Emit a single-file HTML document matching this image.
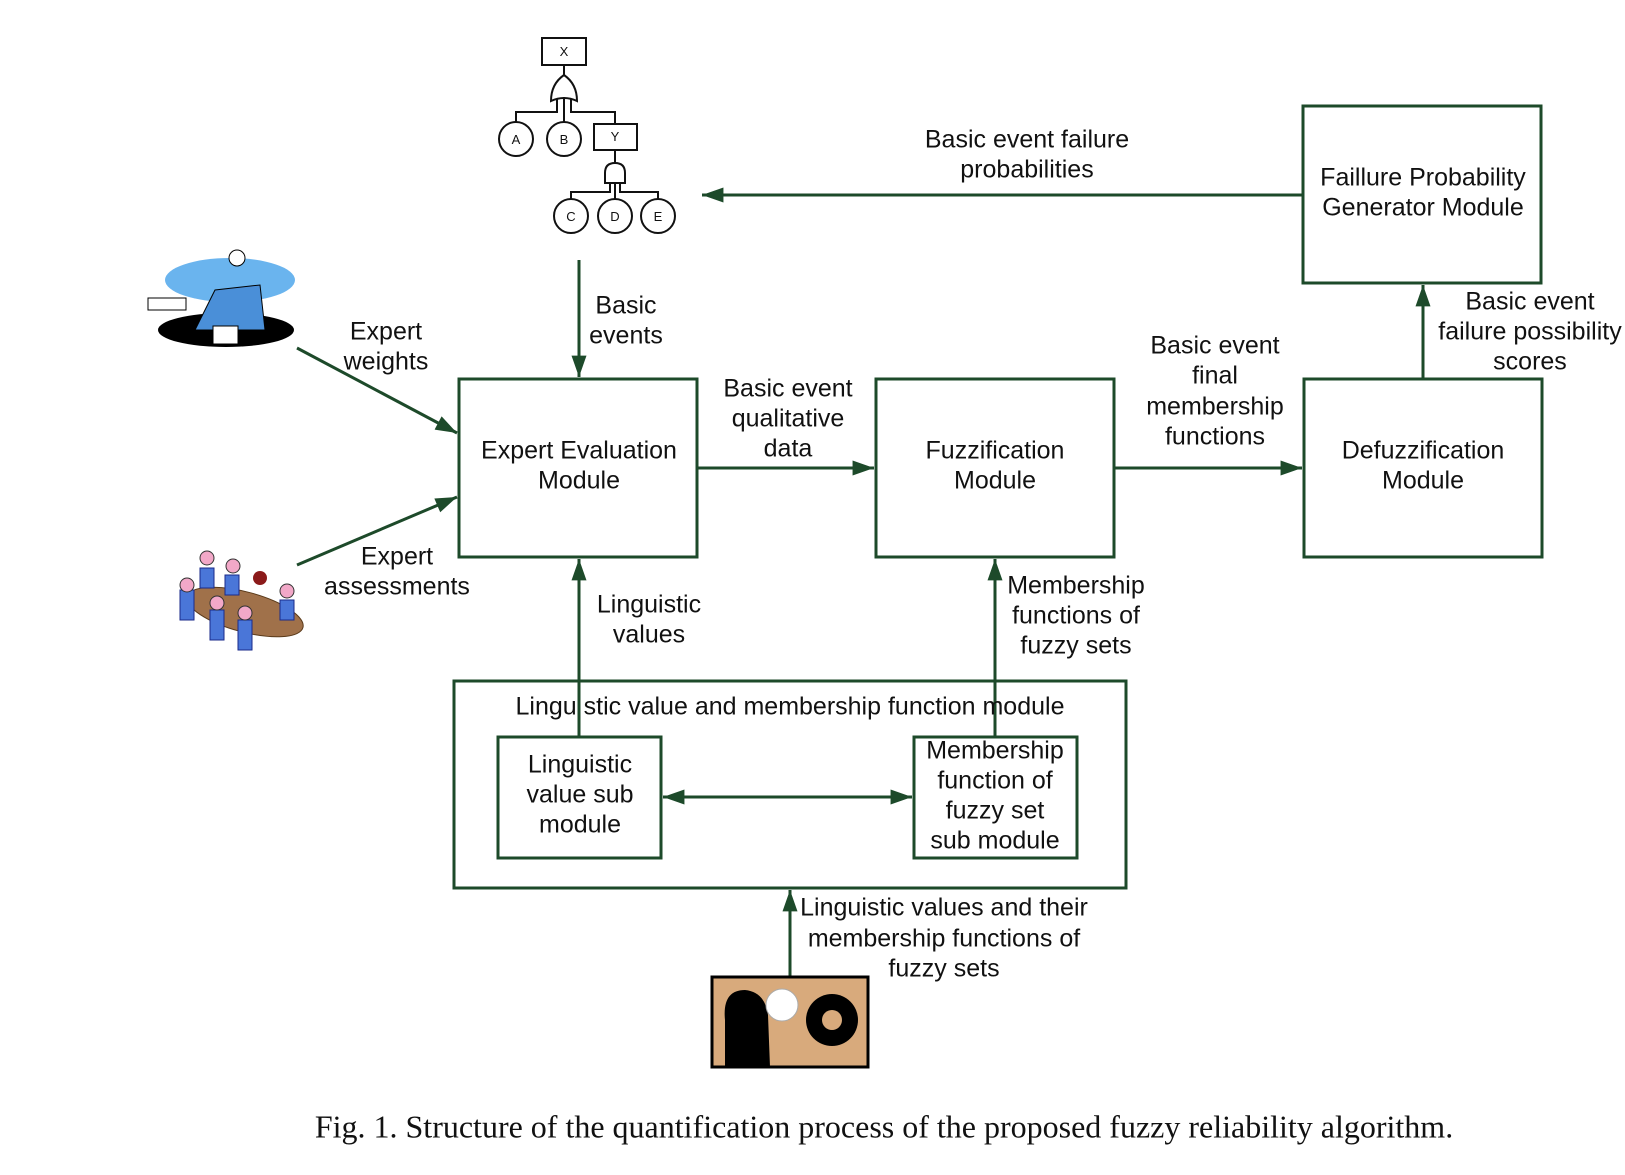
<!DOCTYPE html>
<html><head><meta charset="utf-8"><style>
html,body{margin:0;padding:0;background:#fff;}
svg text{font-family:"Liberation Sans",sans-serif;font-size:25px;fill:#111;}
</style></head><body>
<svg width="1625" height="1170" viewBox="0 0 1625 1170" xmlns="http://www.w3.org/2000/svg">
<defs>
<marker id="a" viewBox="0 0 20 14" refX="20" refY="7" markerWidth="22" markerHeight="15" markerUnits="userSpaceOnUse" orient="auto-start-reverse"><path d="M0,0 L20,7 L0,14 z" fill="#1d4a2a"/></marker>
</defs>
<g fill="none" stroke="#1d4a2a" stroke-width="3">
<rect x="459" y="379" width="238" height="178"/>
<rect x="876" y="379" width="238" height="178"/>
<rect x="1304" y="379" width="238" height="178"/>
<rect x="1303" y="106" width="238" height="177"/>
<rect x="454" y="681" width="672" height="207"/>
<rect x="498" y="737" width="163" height="121"/>
<rect x="914" y="737" width="163" height="121"/>
<line x1="1303" y1="195" x2="702" y2="195" marker-end="url(#a)"/>
<line x1="579" y1="260" x2="579" y2="377" marker-end="url(#a)"/>
<line x1="297" y1="348" x2="457" y2="433" marker-end="url(#a)"/>
<line x1="297" y1="565" x2="457" y2="497" marker-end="url(#a)"/>
<line x1="697" y1="468" x2="874" y2="468" marker-end="url(#a)"/>
<line x1="1114" y1="468" x2="1302" y2="468" marker-end="url(#a)"/>
<line x1="1423" y1="379" x2="1423" y2="285" marker-end="url(#a)"/>
<line x1="579" y1="737" x2="579" y2="559" marker-end="url(#a)"/>
<line x1="995" y1="737" x2="995" y2="559" marker-end="url(#a)"/>
<line x1="663" y1="797" x2="912" y2="797" marker-start="url(#a)" marker-end="url(#a)"/>
<line x1="790" y1="977" x2="790" y2="890" marker-end="url(#a)"/>
</g>
<g fill="#fff" stroke="#111" stroke-width="2">
<rect x="542" y="38" width="44" height="27"/>
<line x1="564" y1="65" x2="564" y2="76"/>
<path d="M551,101 Q551,84 564,75 Q577,84 577,101 Q564,95 551,101 z"/>
<polyline points="557,99 557,112 516,112 516,122" fill="none"/>
<line x1="564" y1="97" x2="564" y2="122"/>
<polyline points="571,99 571,112 615,112 615,124" fill="none"/>
<circle cx="516" cy="139" r="17"/><circle cx="564" cy="139" r="17"/>
<rect x="594" y="124" width="43" height="26"/>
<line x1="615" y1="150" x2="615" y2="163"/>
<path d="M605,183 L605,173 Q605,163 615,163 Q625,163 625,173 L625,183 z"/>
<polyline points="610,183 610,192 571,192 571,199" fill="none"/>
<line x1="615" y1="183" x2="615" y2="199"/>
<polyline points="620,183 620,192 658,192 658,199" fill="none"/>
<circle cx="571" cy="216" r="17"/><circle cx="615" cy="216" r="17"/><circle cx="658" cy="216" r="17"/>
</g>
<g text-anchor="middle">
<text x="564" y="56" style="font-size:13px">X</text>
<text x="516" y="144" style="font-size:13px">A</text><text x="564" y="144" style="font-size:13px">B</text>
<text x="615" y="141" style="font-size:13px">Y</text>
<text x="571" y="221" style="font-size:13px">C</text><text x="615" y="221" style="font-size:13px">D</text><text x="658" y="221" style="font-size:13px">E</text>
</g>
<ellipse cx="230" cy="280" rx="65" ry="22" fill="#6ab4ee"/>
<ellipse cx="226" cy="330" rx="68" ry="17" fill="#000"/>
<path d="M195,330 L215,290 L260,285 L265,330 z" fill="#4a8fd8" stroke="#000"/>
<circle cx="237" cy="258" r="8" fill="#fff" stroke="#000"/>
<rect x="148" y="298" width="38" height="12" fill="#fff" stroke="#000"/>
<rect x="213" y="326" width="25" height="18" fill="#fff" stroke="#000"/>
<ellipse cx="245" cy="612" rx="60" ry="20" fill="#a0714a" stroke="#5a3a1a" transform="rotate(15 245 612)"/>
<g fill="#4a76d8" stroke="#1a2a8a">
<rect x="180" y="590" width="14" height="30"/><rect x="210" y="610" width="14" height="30"/><rect x="238" y="620" width="14" height="30"/>
<rect x="200" y="568" width="14" height="20"/><rect x="225" y="575" width="14" height="20"/><rect x="280" y="600" width="14" height="20"/>
</g>
<g fill="#f2a8c8" stroke="#333">
<circle cx="187" cy="585" r="7"/><circle cx="217" cy="603" r="7"/><circle cx="245" cy="613" r="7"/>
<circle cx="207" cy="558" r="7"/><circle cx="233" cy="566" r="7"/><circle cx="287" cy="591" r="7"/>
</g>
<circle cx="260" cy="578" r="7" fill="#8b1a1a"/>
<rect x="712" y="977" width="156" height="90" fill="#d8aa7c" stroke="#000" stroke-width="3"/>
<path d="M725,1067 L725,1020 Q722,990 745,990 Q765,992 768,1015 L770,1067 z" fill="#000"/>
<circle cx="782" cy="1005" r="16" fill="#fff" stroke="#aaa"/>
<circle cx="832" cy="1020" r="26" fill="#000"/>
<circle cx="832" cy="1020" r="10" fill="#d8aa7c"/>
<g text-anchor="middle" dominant-baseline="middle">
<text x="1027" y="141">Basic event failure</text><text x="1027" y="171">probabilities</text>
<text x="1423" y="179">Faillure Probability</text><text x="1423" y="209">Generator Module</text>
<text x="626" y="307">Basic</text><text x="626" y="337">events</text>
<text x="386" y="333">Expert</text><text x="386" y="363">weights</text>
<text x="397" y="558">Expert</text><text x="397" y="588">assessments</text>
<text x="788" y="390">Basic event</text><text x="788" y="420">qualitative</text><text x="788" y="450">data</text>
<text x="1215" y="347">Basic event</text><text x="1215" y="377">final</text><text x="1215" y="408">membership</text><text x="1215" y="438">functions</text>
<text x="1530" y="303">Basic event</text><text x="1530" y="333">failure possibility</text><text x="1530" y="363">scores</text>
<text x="579" y="452">Expert Evaluation</text><text x="579" y="482">Module</text>
<text x="995" y="452">Fuzzification</text><text x="995" y="482">Module</text>
<text x="1423" y="452">Defuzzification</text><text x="1423" y="482">Module</text>
<text x="649" y="606">Linguistic</text><text x="649" y="636">values</text>
<text x="1076" y="587">Membership</text><text x="1076" y="617">functions of</text><text x="1076" y="647">fuzzy sets</text>
<text x="790" y="708">Lingu<tspan fill="#fff"> </tspan>stic value and membership function module</text>
<text x="580" y="766">Linguistic</text><text x="580" y="796">value sub</text><text x="580" y="826">module</text>
<text x="995" y="752">Membership</text><text x="995" y="782">function of</text><text x="995" y="812">fuzzy set</text><text x="995" y="842">sub module</text>
<text x="944" y="909">Linguistic values and their</text><text x="944" y="940">membership functions of</text><text x="944" y="970">fuzzy sets</text>
<text x="884" y="1130" style="font-family:'Liberation Serif',serif;font-size:32px">Fig. 1. Structure of the quantification process of the proposed fuzzy reliability algorithm.</text>
</g>
</svg>
</body></html>
